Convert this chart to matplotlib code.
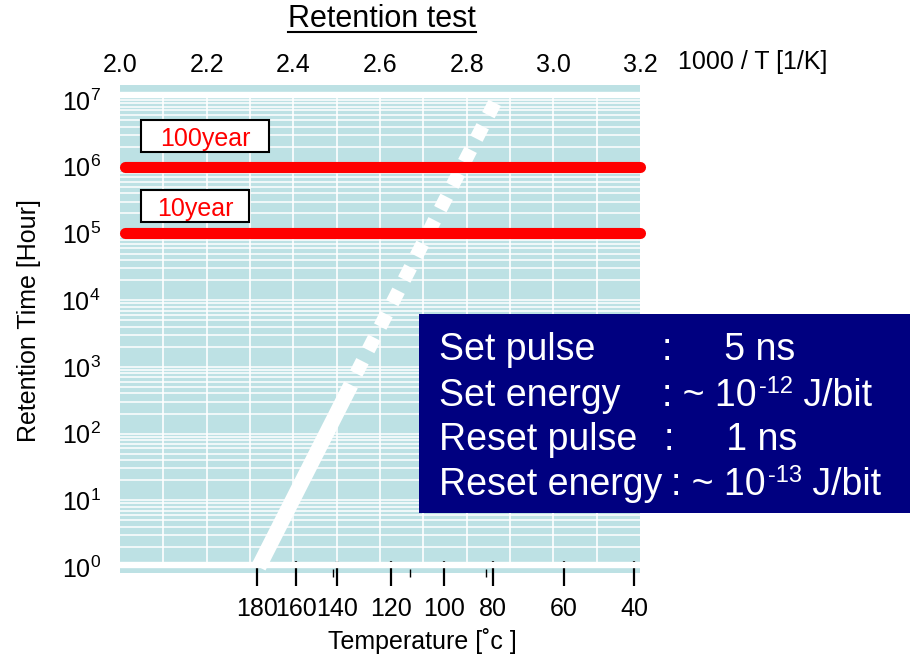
import numpy as np
import matplotlib
matplotlib.use('Agg')
import matplotlib.pyplot as plt
from matplotlib.lines import Line2D
from matplotlib.patches import Rectangle
from matplotlib.ticker import FixedLocator, NullFormatter

plt.rcParams['font.family'] = ['Liberation Sans', 'DejaVu Sans']
plt.rcParams['mathtext.fontset'] = 'custom'
plt.rcParams['mathtext.rm'] = 'Liberation Sans'
plt.rcParams['mathtext.it'] = 'Liberation Sans:italic'
plt.rcParams['mathtext.bf'] = 'Liberation Sans:bold'

# dane
inv_T_measured = [2.320, 2.533]          # 1000/T, odcinek zmierzony
hours_measured = [1.0, 537.0]
inv_T_extrap = [2.545, 2.868]            # ekstrapolacja (kropki)
hours_extrap = [794.0, 1.0e7]
limit_hours = [1e6, 1e5]
limit_labels = ['100year', '10year']
hour_decades = [0, 1, 2, 3, 4, 5, 6, 7]
temp_labels = [180, 160, 140, 120, 100, 80, 60, 40]
temp_pos = [2.316, 2.406, 2.500, 2.625, 2.747, 2.861, 3.025, 3.187]
temp_minor_pos = [2.492, 2.669, 2.845]
top_ticks = [2.0, 2.2, 2.4, 2.6, 2.8, 3.0, 3.2]
spec_names = ['Set pulse', 'Set energy', 'Reset pulse', 'Reset energy']
spec_values = [':     5 ns', ': ~ 10', ':     1 ns', ': ~ 10']
spec_exps = [None, '-12', None, '-13']
spec_units = [None, ' J/bit', None, ' J/bit']

W, H = 910, 664


def fx(x):
    return x / W


def fy(y):
    return 1 - y / H


fig = plt.figure(figsize=(W / 100, H / 100), dpi=100)
ax = fig.add_axes([fx(120), fy(573), 520 / W, 488 / H])
ax.set_facecolor('#bde1e4')
for s in ax.spines.values():
    s.set_visible(False)

ax.set_xlim(2.0, 3.2)
ax.set_yscale('log')
ax.set_ylim(10 ** -0.09, 10 ** 7.226)

# siatka
ax.set_yticks([10.0 ** k for k in hour_decades])
ax.set_yticklabels(['$10^{%d}$' % k for k in hour_decades])
minor_y = [m * 10.0 ** k for k in hour_decades[:-1] for m in range(2, 10)]
ax.yaxis.set_minor_locator(FixedLocator(minor_y))
ax.yaxis.set_minor_formatter(NullFormatter())
ax.grid(True, which='both', axis='y', color='white', lw=1.1, zorder=1)
ax.set_axisbelow(True)
ax.vlines(np.arange(2.1, 3.15, 0.1), 10 ** 0.03, 10 ** 7.07, color='white', lw=1.2, zorder=1)
ax.axhline(10 ** 0.03, color='white', lw=4.6, zorder=2)
ax.axhline(10 ** 7.07, color='white', lw=4.6, zorder=2)

ax.tick_params(axis='y', which='both', length=0, pad=14, labelsize=18)

# os temperatury (dol)
ax.set_xticks(temp_pos)
ax.set_xticklabels([str(t) for t in temp_labels])
ax.set_xticks(temp_minor_pos, minor=True)
ax.tick_params(axis='x', which='major', direction='inout', length=18, width=1.6,
               pad=8, labelsize=18)
ax.tick_params(axis='x', which='minor', direction='inout', length=6, width=1)

# os 1000/T (gora)
secax = ax.secondary_xaxis('top')
secax.set_xticks(top_ticks)
secax.set_xticklabels(['%.1f' % v for v in top_ticks])
secax.tick_params(length=0, pad=6, labelsize=18)
secax.spines['top'].set_visible(False)

# krzywa retencji
ax.plot(inv_T_measured, hours_measured, color='white', lw=11, solid_capstyle='butt', zorder=3)
ax.plot(inv_T_extrap, hours_extrap, color='white', lw=10, linestyle=(0, (1, 0.9)),
        dash_capstyle='butt', zorder=3)

# linie 10 i 100 lat
for h in limit_hours:
    ax.axhline(h, xmin=0.01, xmax=1.0, color='red', lw=8, solid_capstyle='round',
               clip_on=False, zorder=4)

# etykiety w ramkach
boxes = [(141, 120, 128, 32, 205, 146), (141, 190, 108, 32, 195, 216)]
for lab, (bx, by, bw, bh, tx, ty) in zip(limit_labels, boxes):
    fig.add_artist(Rectangle((fx(bx), fy(by + bh)), bw / W, bh / H, transform=fig.transFigure,
                             fc='white', ec='black', lw=1.5, zorder=5))
    fig.text(fx(tx), fy(ty), lab, color='red', fontsize=18, ha='center', va='baseline', zorder=6)

# tytul z podkresleniem
title = fig.text(fx(382), fy(27), 'Retention test', fontsize=22, ha='center', va='baseline')
fig.canvas.draw()
renderer = fig.canvas.get_renderer()
bb = title.get_window_extent(renderer)
fig.add_artist(Line2D([bb.x0 / W, bb.x1 / W], [fy(32), fy(32)], transform=fig.transFigure,
                      color='black', lw=1.5))

fig.text(fx(678), fy(69), '1000 / T [1/K]', fontsize=18, ha='left', va='baseline')
fig.text(fx(422), fy(649), 'Temperature [\u02dac ]', fontsize=18, ha='center', va='baseline')
fig.text(fx(29), fy(321), 'Retention Time [Hour]', fontsize=18, rotation=90,
         ha='center', va='center')

# ramka z parametrami
fig.add_artist(Rectangle((fx(419), fy(513)), (W - 419) / W, (513 - 314) / H,
                         transform=fig.transFigure, fc='#000080', ec='none', zorder=5))
baselines = [360, 406, 450, 495]
colon_x = [662, 662, 664, 671]
for name, val, ex, unit, by, cx in zip(spec_names, spec_values, spec_exps, spec_units,
                                       baselines, colon_x):
    fig.text(fx(439), fy(by), name, color='white', fontsize=27, va='baseline', zorder=6)
    t = fig.text(fx(cx), fy(by), val, color='white', fontsize=27, va='baseline', zorder=6)
    if ex is not None:
        x_end = t.get_window_extent(renderer).x1
        s = fig.text((x_end + 2) / W, fy(by - 13), ex, color='white', fontsize=17,
                     va='baseline', zorder=6)
        x_end = s.get_window_extent(renderer).x1
        fig.text(x_end / W, fy(by), unit, color='white', fontsize=27, va='baseline', zorder=6)

fig.savefig('out.png', dpi=100)
